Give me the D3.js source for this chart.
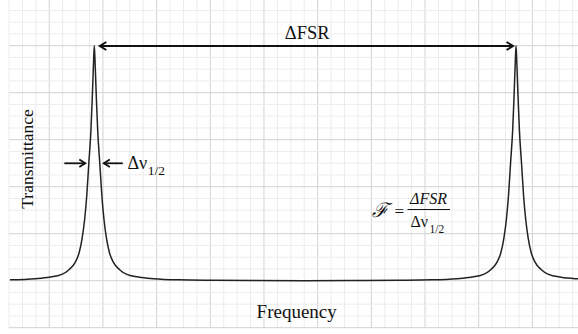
<!DOCTYPE html>
<html><head><meta charset="utf-8">
<script src="https://cdn.jsdelivr.net/npm/d3@7"></script>
<style>
html,body{margin:0;padding:0;background:#fff;}
svg{display:block;}
text{font-family:"Liberation Serif","Times New Roman",serif;fill:#111;}
</style></head>
<body><svg id="c" width="578" height="334"></svg>
<script>
// Frequency in units of FSR (peaks at 1 and 2), transmittance normalised
const frequency = [0.80,0.86,0.893,0.923,0.94,0.955,0.964,0.971,0.977,0.982,0.987,0.992,0.995,0.9976,1.0,
  1.0024,1.005,1.008,1.013,1.018,1.023,1.029,1.036,1.045,1.06,1.077,1.107,1.14,1.2,1.28,1.38,1.5,
  1.62,1.72,1.8,1.86,1.893,1.923,1.94,1.955,1.964,1.971,1.977,1.982,1.987,1.992,1.995,1.9976,2.0,
  2.0024,2.005,2.008,2.013,2.018,2.023,2.029,2.036,2.045,2.06,2.077,2.107,2.14,2.15];
const transmittance = [0.005,0.010,0.016,0.028,0.048,0.08,0.12,0.18,0.26,0.36,0.50,0.64,0.77,0.90,1.0,
  0.90,0.77,0.64,0.50,0.36,0.26,0.18,0.12,0.08,0.048,0.028,0.016,0.010,0.005,0.003,0.002,0.0015,
  0.002,0.003,0.005,0.010,0.016,0.028,0.048,0.08,0.12,0.18,0.26,0.36,0.50,0.64,0.77,0.90,1.0,
  0.90,0.77,0.64,0.50,0.36,0.26,0.18,0.12,0.08,0.048,0.028,0.016,0.010,0.009];
const peakFrequencies = [1.0, 2.0];
const halfWidthMarks = [0.987, 1.013];
const labels = {fsr:"ΔFSR", x:"Frequency", y:"Transmittance"};

const svg = d3.select("#c");
const x = d3.scaleLinear().domain([0.8, 2.15]).range([9.96, 579.3]);
const y = d3.scaleLinear().domain([0, 1]).range([281, 45.5]);

// grid
const g = svg.append("g");
const gx0 = 9, gx1 = 578, gy0 = 0, gy1 = 328;
const vstep = 13.42, hstep = 11.75;
d3.range(0, 43).forEach(k => {
  const xx = gx0 + k*vstep;
  if (xx > gx1) return;
  g.append("line").attr("x1",xx).attr("x2",xx).attr("y1",gy0).attr("y2",gy1)
   .attr("stroke", (k%4===3) ? "#d2d2d2" : "#ececec").attr("stroke-width",1);
});
d3.range(-4, 28).forEach(k => {
  const yy = 45.7 + k*hstep;
  if (yy < gy0 - 0.5 || yy > gy1 + 0.5) return;
  g.append("line").attr("x1",gx0).attr("x2",gx1).attr("y1",yy).attr("y2",yy)
   .attr("stroke", (((k%4)+4)%4===0) ? "#d2d2d2" : "#ececec").attr("stroke-width",1);
});

// curve
const pts = frequency.map((f,i)=>[f, transmittance[i]]);
svg.append("path").datum(pts)
  .attr("d", d3.line().x(d=>x(d[0])).y(d=>y(d[1])).curve(d3.curveMonotoneX))
  .attr("fill","none").attr("stroke","#222").attr("stroke-width",1.5);

// arrowheads
function head(tx, ty, dir, len, half, w){
  svg.append("path")
    .attr("d", `M${tx+dir*len},${ty-half}L${tx},${ty}L${tx+dir*len},${ty+half}`)
    .attr("fill","none").attr("stroke","#111").attr("stroke-width",w)
    .attr("stroke-linejoin","miter");
}
// FSR arrow
const ay = y(1) + 0.5;
const ax1 = x(peakFrequencies[0]) + 5.5, ax2 = x(peakFrequencies[1]) - 3;
svg.append("line").attr("x1",ax1).attr("x2",ax2).attr("y1",ay).attr("y2",ay)
  .attr("stroke","#111").attr("stroke-width",2);
head(ax1, ay, 1, 6.5, 4, 2);
head(ax2, ay, -1, 6.5, 4, 2);
svg.append("text").attr("x",(x(peakFrequencies[0])+x(peakFrequencies[1]))/2+2).attr("y",38.5)
  .attr("text-anchor","middle").attr("font-size",18.5).text(labels.fsr);

// half-width arrows
const hy = 163.3;
const lx = x(halfWidthMarks[0]) - 3.5, rx = x(halfWidthMarks[1]) + 4;
svg.append("line").attr("x1",lx-21).attr("x2",lx).attr("y1",hy).attr("y2",hy).attr("stroke","#111").attr("stroke-width",1.8);
head(lx, hy, -1, 6, 3.8, 1.8);
svg.append("line").attr("x1",rx).attr("x2",rx+19).attr("y1",hy).attr("y2",hy).attr("stroke","#111").attr("stroke-width",1.8);
head(rx, hy, 1, 6, 3.8, 1.8);
const t1 = svg.append("text").attr("x",127.5).attr("y",168.8).attr("font-size",18);
t1.append("tspan").text("Δν");
t1.append("tspan").attr("font-size",13.5).attr("dy",6).attr("dx",0.5).text("1/2");

// finesse formula
svg.append("text").attr("x",372).attr("y",217).attr("font-size",20)
  .attr("font-style","italic").style("font-family","'DejaVu Serif','Liberation Serif',serif").text("ℱ");
svg.append("text").attr("x",394.5).attr("y",216.5).attr("font-size",17).text("=");
svg.append("text").attr("x",428.5).attr("y",203.5).attr("text-anchor","middle")
  .attr("font-size",16).attr("font-style","italic").text("ΔFSR");
svg.append("line").attr("x1",407.5).attr("x2",450).attr("y1",209.5).attr("y2",209.5)
  .attr("stroke","#111").attr("stroke-width",1);
const t2 = svg.append("text").attr("x",410.5).attr("y",226.5).attr("font-size",16);
t2.append("tspan").text("Δν");
t2.append("tspan").attr("font-size",11.5).attr("dy",6).attr("dx",1.5).text("1/2");

// axis titles
svg.append("text").attr("x",296.7).attr("y",317.5).attr("text-anchor","middle")
  .attr("font-size",19).text(labels.x);
svg.append("text").attr("transform","translate(33,159) rotate(-90)").attr("text-anchor","middle")
  .attr("font-size",17.5).text(labels.y);
</script></body></html>
